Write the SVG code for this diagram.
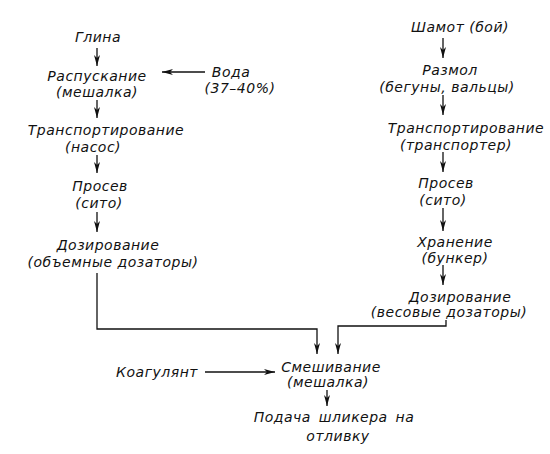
<svg xmlns="http://www.w3.org/2000/svg" width="550" height="454" viewBox="0 0 550 454">
<style>
text{font-family:"DejaVu Sans",sans-serif;font-style:italic;font-size:14px;fill:#111;text-anchor:middle;letter-spacing:0.5px}
.c{stroke:#111;stroke-width:1.3;fill:none}
</style>
<defs>
<marker id="a" markerWidth="12" markerHeight="6" refX="11" refY="3" orient="auto" markerUnits="userSpaceOnUse" viewBox="0 0 12 6">
<path d="M0,0 L11,3 L0,6 L3,3 Z" fill="#111"/>
</marker>
</defs>
<g id="connectors">
<path class="c" d="M97,48 V66" marker-end="url(#a)"/>
<path class="c" d="M205,72 H162" marker-end="url(#a)"/>
<path class="c" d="M97,100 V118" marker-end="url(#a)"/>
<path class="c" d="M97,155 V173" marker-end="url(#a)"/>
<path class="c" d="M97,212 V232" marker-end="url(#a)"/>
<path class="c" d="M97,273 V329 H317 V354" marker-end="url(#a)"/>
<path class="c" d="M443,38 V58" marker-end="url(#a)"/>
<path class="c" d="M443,95 V115" marker-end="url(#a)"/>
<path class="c" d="M443,152 V172" marker-end="url(#a)"/>
<path class="c" d="M443,208 V231" marker-end="url(#a)"/>
<path class="c" d="M443,265 V285" marker-end="url(#a)"/>
<path class="c" d="M446,320 V326 H338 V354" marker-end="url(#a)"/>
<path class="c" d="M205,372 H275" marker-end="url(#a)"/>
<path class="c" d="M327,390 V406" marker-end="url(#a)"/>
</g>
<g id="glina"><text x="98" y="42">Глина</text></g>
<g id="raspuskanie"><text x="97" y="81">Распускание</text><text x="97" y="97">(мешалка)</text></g>
<g id="voda"><text x="231" y="77">Вода</text><text x="240" y="93">(37–40%)</text></g>
<g id="transport1"><text x="106" y="135">Транспортирование</text><text x="93" y="152">(насос)</text></g>
<g id="prosev1"><text x="100" y="191">Просев</text><text x="99" y="208">(сито)</text></g>
<g id="dozir1"><text x="108" y="250">Дозирование</text><text x="113" y="267">(объемные дозаторы)</text></g>
<g id="shamot"><text x="460" y="32">Шамот (бой)</text></g>
<g id="razmol"><text x="450" y="75">Размол</text><text x="447" y="92">(бегуны, вальцы)</text></g>
<g id="transport2"><text x="466" y="133">Транспортирование</text><text x="456" y="150">(транспортер)</text></g>
<g id="prosev2"><text x="446" y="188">Просев</text><text x="443" y="205">(сито)</text></g>
<g id="hranenie"><text x="455" y="247">Хранение</text><text x="455" y="263">(бункер)</text></g>
<g id="dozir2"><text x="460" y="302">Дозирование</text><text x="449" y="317">(весовые дозаторы)</text></g>
<g id="koagulyant"><text x="157" y="377">Коагулянт</text></g>
<g id="smeshivanie"><text x="331" y="372">Смешивание</text><text x="328" y="387">(мешалка)</text></g>
<g id="podacha"><text x="334" y="422" word-spacing="3">Подача шликера на</text><text x="338" y="441">отливку</text></g>
</svg>
